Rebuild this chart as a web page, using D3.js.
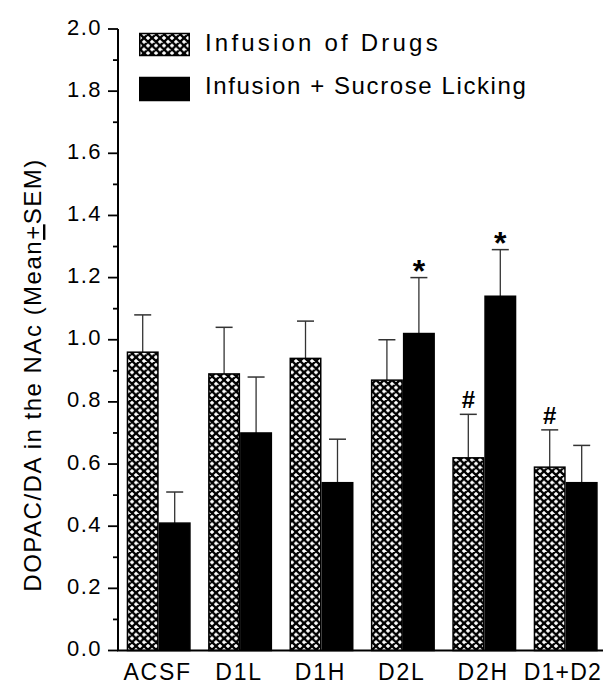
<!DOCTYPE html>
<html>
<head>
<meta charset="utf-8">
<script src="https://cdn.jsdelivr.net/npm/d3@7"></script>
<style>
  html, body { margin: 0; padding: 0; background: #fff; }
  svg { display: block; font-family: "Liberation Sans", Arial, sans-serif; }
</style>
</head>
<body>
<svg id="chart" width="603" height="685"></svg>
<script>
const categories = ["ACSF", "D1L", "D1H", "D2L", "D2H", "D1+D2"];
const drugsMean = [0.96, 0.89, 0.94, 0.87, 0.62, 0.59];
const drugsSEM  = [0.12, 0.15, 0.12, 0.13, 0.14, 0.12];
const lickMean  = [0.41, 0.70, 0.54, 1.02, 1.14, 0.54];
const lickSEM   = [0.10, 0.18, 0.14, 0.18, 0.15, 0.12];
const drugsMarks = ["", "", "", "", "#", "#"];
const lickMarks  = ["", "", "", "*", "*", ""];
const seriesNames = ["Infusion of Drugs", "Infusion + Sucrose Licking"];
const yMajorTicks = [0.0, 0.2, 0.4, 0.6, 0.8, 1.0, 1.2, 1.4, 1.6, 1.8, 2.0];
const yMinorTicks = [0.1, 0.3, 0.5, 0.7, 0.9, 1.1, 1.3, 1.5, 1.7, 1.9];

const svg = d3.select("#chart");

const y = d3.scaleLinear().domain([0, 2]).range([650.5, 29]);
const x = d3.scaleBand().domain(categories).range([118, 606.4])
  .paddingInner(0.214).paddingOuter(0.107);
const xs = d3.scaleBand().domain(["drugs", "lick"]).range([0, x.bandwidth()]);

// hatch pattern
const defs = svg.append("defs");
const pat = defs.append("pattern").attr("id", "hatch")
  .attr("patternUnits", "userSpaceOnUse").attr("width", 8).attr("height", 7.6);
pat.append("rect").attr("width", 8).attr("height", 7.6).attr("fill", "#fff");
pat.append("path")
  .attr("d", "M0,0 L8,7.6 M8,0 L0,7.6 M-2,5.7 L2,9.5 M6,-1.9 L10,1.9 M-2,1.9 L2,-1.9 M6,9.5 L10,5.7")
  .attr("stroke", "#000").attr("stroke-width", 2.3);

const series = [
  { key: "drugs", mean: drugsMean, sem: drugsSEM, marks: drugsMarks, fill: "url(#hatch)" },
  { key: "lick", mean: lickMean, sem: lickSEM, marks: lickMarks, fill: "#000" }
];

series.forEach(s => {
  const g = svg.append("g");
  categories.forEach((c, i) => {
    const bx = x(c) + xs(s.key);
    const bw = xs.bandwidth();
    const cx = bx + bw / 2;
    const top = y(s.mean[i]);
    const capY = y(s.mean[i] + s.sem[i]);
    // error bar
    g.append("line").attr("x1", cx).attr("x2", cx).attr("y1", top).attr("y2", capY)
      .attr("stroke", "#333").attr("stroke-width", 1.3);
    g.append("line").attr("x1", cx - 8.5).attr("x2", cx + 8.5).attr("y1", capY).attr("y2", capY)
      .attr("stroke", "#333").attr("stroke-width", 1.5);
    g.append("rect").attr("x", bx + 0.75).attr("y", top).attr("width", bw - 1.5)
      .attr("height", y(0) - top).attr("fill", s.fill)
      .attr("stroke", "#000").attr("stroke-width", 1.5);
    if (s.marks[i] === "*") {
      g.append("text").attr("x", cx).attr("y", capY + 4).attr("text-anchor", "middle")
        .attr("font-size", 32).attr("font-weight", "bold").text("*");
    } else if (s.marks[i] === "#") {
      g.append("text").attr("x", cx).attr("y", capY - 6).attr("text-anchor", "middle")
        .attr("font-size", 24).attr("font-weight", "bold").text("#");
    }
  });
});

// y axis
const yAxis = svg.append("g");
yAxis.append("line").attr("x1", 118).attr("x2", 118).attr("y1", y(2)).attr("y2", y(0))
  .attr("stroke", "#000").attr("stroke-width", 2);
yMajorTicks.forEach(t => {
  yAxis.append("line").attr("x1", 108).attr("x2", 118).attr("y1", y(t)).attr("y2", y(t))
    .attr("stroke", "#000").attr("stroke-width", 1.8);
  yAxis.append("text").attr("x", 102).attr("y", y(t) + 5.5).attr("text-anchor", "end")
    .attr("font-size", 22).attr("letter-spacing", 1.5).text(t.toFixed(1));
});
yMinorTicks.forEach(t => {
  yAxis.append("line").attr("x1", 113).attr("x2", 118).attr("y1", y(t)).attr("y2", y(t))
    .attr("stroke", "#000").attr("stroke-width", 1.8);
});

// x axis
svg.append("line").attr("x1", 117).attr("x2", 603).attr("y1", y(0)).attr("y2", y(0))
  .attr("stroke", "#000").attr("stroke-width", 2);
categories.forEach((c, i) => {
  const last = i === categories.length - 1;
  svg.append("text")
    .attr("x", last ? 602 : x(c) + x.bandwidth() / 2 - 1).attr("y", 680)
    .attr("text-anchor", last ? "end" : "middle").attr("font-size", 23)
    .attr("letter-spacing", last ? 1.2 : 1.8)
    .text(c);
});

// y title
const title = svg.append("text").attr("transform", "translate(41,375) rotate(-90)")
  .attr("text-anchor", "middle").attr("font-size", 24).attr("letter-spacing", 1.5);
title.append("tspan").text("DOPAC/DA in the NAc (Mean");
title.append("tspan").style("text-decoration", "underline").text("+");
title.append("tspan").text("SEM)");

// legend
const legend = svg.append("g");
legend.append("rect").attr("x", 139.75).attr("y", 33.5).attr("width", 49.5).attr("height", 22)
  .attr("fill", "url(#hatch)").attr("stroke", "#000").attr("stroke-width", 1.5);
legend.append("rect").attr("x", 139.75).attr("y", 77.5).attr("width", 49.5).attr("height", 23)
  .attr("fill", "#000").attr("stroke", "#000").attr("stroke-width", 1.5);
legend.append("text").attr("x", 205).attr("y", 51).attr("font-size", 24)
  .attr("letter-spacing", 3.2).text(seriesNames[0]);
legend.append("text").attr("x", 205).attr("y", 94).attr("font-size", 24)
  .attr("letter-spacing", 1.6).text(seriesNames[1]);
</script>
</body>
</html>
